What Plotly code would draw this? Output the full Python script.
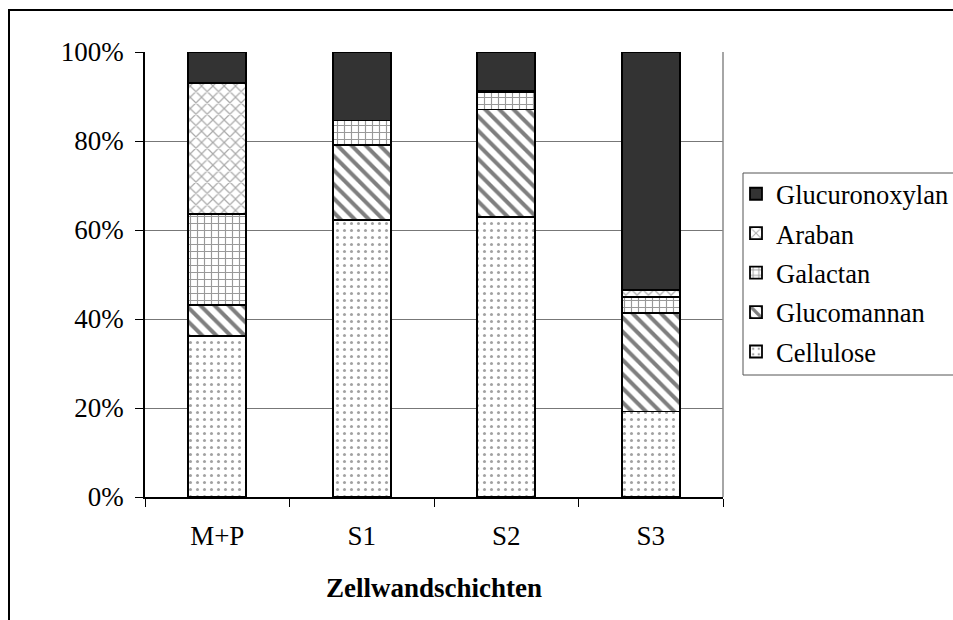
import plotly.graph_objects as go

categories = ["M+P", "S1", "S2", "S3"]
cellulose = [36.2, 62.2, 63.0, 19.2]
glucomannan = [6.9, 16.9, 24.1, 22.1]
galactan = [20.5, 5.5, 3.8, 3.7]
araban = [29.4, 0.0, 0.4, 1.5]
glucuronoxylan = [7.0, 15.4, 8.7, 53.5]
y_ticks = [0, 20, 40, 60, 80, 100]
y_tick_labels = ["0%", "20%", "40%", "60%", "80%", "100%"]

series = [
    ("Cellulose", cellulose, dict(shape=".", fgcolor="#444444", bgcolor="white", size=7, solidity=0.15)),
    ("Glucomannan", glucomannan, dict(shape="\\", fgcolor="#000000", bgcolor="white", size=10, solidity=0.4)),
    ("Galactan", galactan, dict(shape="+", fgcolor="#333333", bgcolor="white", size=7, solidity=0.3)),
    ("Araban", araban, dict(shape="x", fgcolor="#555555", bgcolor="white", size=8, solidity=0.28)),
    ("Glucuronoxylan", glucuronoxylan, None),
]

FONT = "Liberation Serif"
FS = 27
LFS = 26.5

# plot area in pixels: x 145..723, y 52..497
L, R, T, B = 145, 723, 52, 497
PW, PH = R - L, B - T

def px(x):
    return (x - L) / PW

def py(y):
    return (B - y) / PH

fig = go.Figure()
n = len(series)
for i, (name, vals, pat) in enumerate(series):
    marker = dict(line=dict(color="black", width=1.8))
    if pat is None:
        marker["color"] = "#333333"
    else:
        marker["color"] = "white"
        marker["pattern"] = pat
    fig.add_trace(go.Bar(x=categories, y=vals, name=name, marker=marker, width=0.4,
                         legendgroup=name, legendrank=1000 + (n - i)))

fig.update_layout(
    barmode="stack",
    width=953, height=620,
    margin=dict(l=L, r=953 - R, t=T, b=620 - B, autoexpand=False),
    paper_bgcolor="white", plot_bgcolor="white",
    font=dict(family=FONT, size=FS, color="black"),
    showlegend=True,
    legend=dict(
        x=px(736), y=py(170), xanchor="left", yanchor="top",
        traceorder="grouped",
        tracegroupgap=2,
        borderwidth=0, bgcolor="rgba(0,0,0,0)",
        font=dict(family=FONT, size=LFS, color="black"),
        itemwidth=30,
    ),
    xaxis=dict(
        showline=True, linecolor="black", linewidth=1.5,
        ticks="outside", ticklen=8, tickcolor="black", tickson="boundaries",
        showgrid=False,
        ticklabelstandoff=14,
        title=dict(text="<b>Zellwandschichten</b>", font=dict(family=FONT, size=FS), standoff=28),
        tickfont=dict(family=FONT, size=FS),
    ),
    yaxis=dict(
        range=[0, 100],
        tickvals=y_ticks, ticktext=y_tick_labels,
        showline=True, linecolor="black", linewidth=1.5,
        ticks="outside", ticklen=8, tickcolor="black",
        ticklabelstandoff=6,
        showgrid=True, gridcolor="#777777", gridwidth=1,
        tickfont=dict(family=FONT, size=FS),
        zeroline=False,
    ),
    shapes=[
        dict(type="line", xref="paper", yref="paper", x0=1, x1=1, y0=0, y1=1,
             line=dict(color="#888888", width=1.5)),
        dict(type="rect", xref="paper", yref="paper",
             x0=px(743), x1=px(975), y0=py(375), y1=py(173),
             line=dict(color="#555555", width=1), fillcolor="white", layer="below"),
        dict(type="rect", xref="paper", yref="paper",
             x0=px(9), x1=px(975), y0=py(640), y1=py(10),
             line=dict(color="black", width=2), layer="below"),
    ],
)

fig.write_html("out.html", config={"displayModeBar": False},
               post_script="document.body.style.margin='0px';")
